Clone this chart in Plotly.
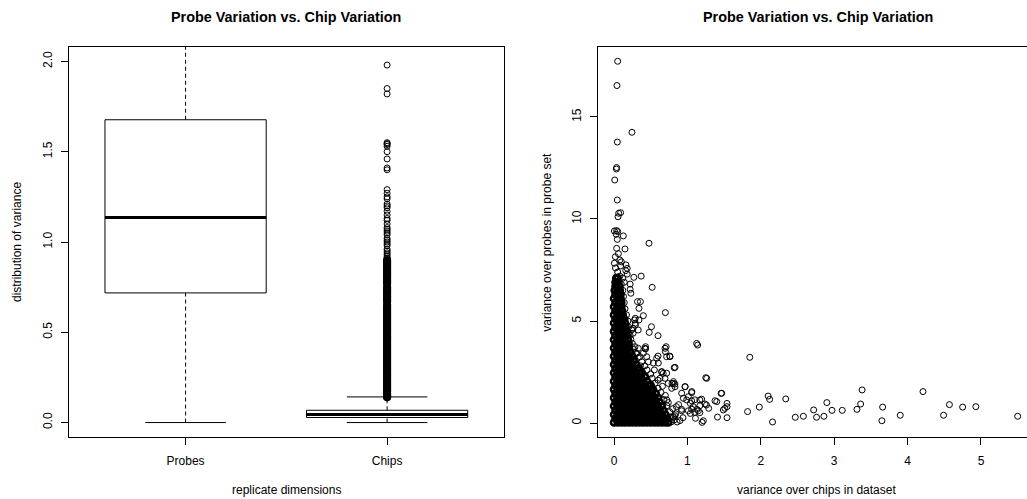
import plotly.graph_objects as go

# ---------------- left panel: boxplot summary ----------------
box_groups = ["Probes", "Chips"]
box_pos = [1, 2]
box_lower = [0.0, 0.0]
box_q1 = [0.718, 0.028]
box_median = [1.136, 0.044]
box_q3 = [1.677, 0.068]
box_upper = [3.10, 0.142]

chips_outliers = [
    1.98, 1.85, 1.82, 1.55, 1.545, 1.54, 1.53, 1.50, 1.46, 1.41, 1.40, 1.29, 1.27,
    1.25, 1.24, 1.21, 1.20, 1.19, 1.17, 1.15, 1.13, 1.12, 1.10, 1.08, 1.07, 1.06,
    1.05, 1.04, 1.02, 1.01, 1.00, 0.99, 0.98, 0.96, 0.95, 0.94, 0.93, 0.92, 0.91,
    0.90, 0.89, 0.88, 0.87, 0.86, 0.85, 0.84, 0.83, 0.82, 0.81, 0.80, 0.79, 0.78,
    0.77, 0.75, 0.74, 0.73, 0.72, 0.71, 0.70, 0.69, 0.68, 0.67, 0.65, 0.64, 0.63,
    0.62, 0.61, 0.60, 0.59, 0.58, 0.57, 0.56, 0.55, 0.54, 0.53, 0.52, 0.51, 0.50,
    0.49, 0.48, 0.47, 0.46, 0.45, 0.44, 0.43, 0.42, 0.41, 0.40, 0.39, 0.38, 0.37,
    0.36, 0.35, 0.34, 0.33, 0.32, 0.31, 0.30, 0.29, 0.28, 0.27, 0.26, 0.25, 0.24,
    0.23, 0.22, 0.21, 0.20, 0.19, 0.18, 0.17, 0.16, 0.15, 0.145, 0.14,
]

left_yticks = [0.0, 0.5, 1.0, 1.5, 2.0]
left_yticklabels = ["0.0", "0.5", "1.0", "1.5", "2.0"]

# ---------------- right panel: scatter ----------------
# dense core, row by row: y level and the x positions on that row
core_row_y = [0.03, 0.22, 0.42, 0.62, 0.83, 1.03, 1.24, 1.44, 1.65, 1.85, 2.05, 2.26,
              2.46, 2.66, 2.87, 3.07, 3.27, 3.48, 3.68, 3.88, 4.08, 4.29, 4.49, 4.69,
              4.90, 5.10, 5.30, 5.50, 5.70, 5.90, 6.10, 6.30, 6.50, 6.70, 6.90, 7.10]
core_row_x = [
    [0, .05, .1, .15, .2, .25, .3, .35, .4, .45, .5, .55, .6, .65, .7, .74],
    [.02, .07, .12, .17, .22, .27, .32, .37, .42, .47, .52, .57, .62, .67, .72],
    [0, .05, .1, .15, .2, .25, .3, .35, .4, .45, .5, .55, .6, .65, .7],
    [.02, .07, .12, .17, .22, .27, .32, .37, .42, .47, .52, .57, .62, .67],
    [0, .05, .1, .15, .2, .25, .3, .35, .4, .45, .5, .55, .6, .65],
    [.02, .07, .12, .17, .22, .27, .32, .37, .42, .47, .52, .57, .62],
    [0, .05, .1, .15, .2, .25, .3, .35, .4, .45, .5, .55, .6],
    [.02, .07, .12, .17, .22, .27, .32, .37, .42, .47, .52, .57],
    [0, .05, .1, .15, .2, .25, .3, .35, .4, .45, .5, .53],
    [.02, .07, .12, .17, .22, .27, .32, .37, .42, .47, .5],
    [0, .05, .1, .15, .2, .25, .3, .35, .4, .45],
    [.02, .07, .12, .17, .22, .27, .32, .37, .42],
    [0, .05, .1, .15, .2, .25, .3, .35, .38],
    [.02, .07, .12, .17, .22, .27, .32, .34],
    [0, .05, .1, .15, .2, .25, .3],
    [.02, .07, .12, .17, .22, .27],
    [0, .05, .1, .15, .2, .25],
    [.02, .07, .12, .17, .22],
    [0, .05, .1, .15, .2],
    [.02, .07, .12, .17, .2],
    [0, .05, .1, .15, .19],
    [.02, .07, .12, .17],
    [0, .05, .1, .15, .17],
    [.02, .07, .12, .16],
    [0, .05, .1, .15],
    [.02, .07, .12, .14],
    [0, .05, .1, .12],
    [.02, .07, .11],
    [0, .05, .1],
    [.02, .07, .1],
    [0, .05, .09],
    [.02, .06, .09],
    [.01, .05, .08],
    [.02, .07],
    [.02, .06],
    [.03, .05],
]

# points around the edge of the dense cloud
mid_x = [0.286, 0.331, 0.422, 0.309, 0.40, 0.354, 0.445, 0.468, 0.581, 0.536, 0.695, 0.717,
         0.763, 0.604, 0.649, 0.717, 0.831, 0.627, 0.695, 0.74, 0.808, 0.831, 0.786, 0.967,
         1.058, 0.922, 1.013, 0.945, 1.058, 1.10, 1.194, 1.17, 1.24, 1.376, 1.467, 1.263,
         1.058, 1.149, 1.217, 1.10, 1.013, 0.922, 0.831, 0.649, 0.808, 0.49, 0.29, 0.33,
         0.24, 0.20, 0.26, 0.29,
         0.78, 0.82, 0.86, 0.90, 0.77, 0.84, 0.76, 0.80, 0.88, 0.72, 0.74, 0.68, 0.70, 0.64,
         0.60, 0.66, 0.56, 0.60, 0.52, 0.50, 0.55, 0.45, 0.42, 0.38, 0.36, 0.33, 0.30, 0.27,
         0.25, 0.23, 0.22, 0.20, 0.19, 0.17, 0.15, 0.14, 0.13, 0.12, 0.10, 0.08, 0.05, 0.02]
mid_y = [3.74, 3.66, 3.66, 3.42, 3.42, 3.25, 3.25, 3.00, 3.17, 2.94, 3.66, 3.25,
         3.25, 2.94, 2.52, 2.44, 2.73, 2.19, 2.19, 1.94, 1.94, 1.78, 1.70, 1.78,
         1.49, 1.46, 1.29, 1.21, 1.09, 1.14, 1.17, 0.85, 0.93, 1.09, 1.46, 2.19,
         0.68, 0.60, 0.11, 0.52, 0.60, 0.60, 0.36, 0.11, 0.27, 0.11, 4.89, 4.56,
         4.56, 4.40, 4.40, 5.13,
         0.05, 0.15, 0.05, 0.12, 0.30, 0.45, 0.55, 0.70, 0.90, 0.85, 1.00, 1.15, 1.35, 1.50,
         1.70, 1.80, 1.95, 2.10, 2.20, 2.40, 2.60, 2.60, 2.80, 3.00, 2.80, 3.20, 3.40, 3.60,
         3.90, 4.10, 4.30, 4.70, 5.00, 5.30, 5.60, 5.90, 6.20, 6.50, 6.80, 7.20, 7.40, 7.60]

# isolated points
outer_x = [0.05, 0.04, 0.245, 0.045, 0.036, 0.033, 0.01, 0.045, 0.064, 0.09, 0.055,
           0.005, 0.036, 0.05, 0.03, 0.127, 0.045, 0.036, 0.15, 0.477,
           0.018, 0.08, 0.005, 0.10, 0.163, 0.18, 0.16, 0.27, 0.37, 0.52, 0.22, 0.22, 0.23,
           0.18, 0.06, 0.09, 0.12, 0.14,
           0.32, 0.36, 0.34, 0.40, 0.34, 0.70, 0.28, 0.29, 0.26, 0.51, 0.48, 0.60,
           1.126, 1.14, 1.85, 0.43, 0.43, 0.71, 0.70, 0.76, 0.60, 0.82, 0.65, 0.67, 1.25,
           0.81, 0.79, 0.83, 0.97, 1.06, 1.46, 2.10, 2.12, 2.34, 3.38, 4.21, 1.17, 1.40,
           1.54, 1.51, 1.49, 1.29, 1.26, 0.99, 1.04, 1.08, 1.13, 1.82, 1.98, 2.90, 3.36,
           3.31, 2.72, 2.97, 3.11, 3.66, 4.57, 4.75, 4.93, 4.49, 3.90, 3.65, 5.50, 2.86,
           2.76, 2.58, 2.47, 2.16, 1.54, 1.41, 1.20, 1.11, 0.94, 0.81, 0.66, 0.48, 1.17,
           1.04, 0.92, 0.85, 0.72, 1.54]
outer_y = [17.73, 16.54, 14.25, 13.77, 12.52, 12.45, 11.91, 10.93, 10.28, 10.31, 10.11,
           9.41, 9.43, 9.38, 9.25, 9.17, 9.00, 8.56, 8.53, 8.81,
           8.15, 7.99, 7.83, 7.90, 7.75, 7.58, 7.47, 7.14, 7.20, 6.65, 6.81, 6.55, 6.36,
           7.30, 8.30, 7.70, 7.10, 6.90,
           5.95, 5.95, 5.62, 5.26, 5.05, 5.41, 5.05, 4.80, 4.64, 4.72, 4.44, 4.28,
           3.90, 3.82, 3.22, 3.63, 3.74, 3.74, 3.50, 3.28, 3.28, 2.71, 2.50, 2.43, 2.22,
           2.03, 1.94, 1.91, 1.78, 1.54, 1.45, 1.32, 1.16, 1.18, 1.62, 1.54, 1.13, 1.05,
           0.96, 0.72, 0.64, 0.72, 0.88, 1.13, 0.96, 0.80, 0.67, 0.56, 0.78, 1.00, 0.93,
           0.67, 0.64, 0.62, 0.62, 0.78, 0.90, 0.78, 0.80, 0.38, 0.38, 0.11, 0.33, 0.33,
           0.28, 0.33, 0.28, 0.05, 0.26, 0.29, 0.03, 0.23, 0.26, 0.31, 0.02, 0.07, 0.51,
           0.47, 0.67, 0.80, 1.13, 0.80]

right_xticks = [0, 1, 2, 3, 4, 5]
right_yticks = [0, 5, 10, 15]

# ---------------- styles ----------------
FONT = "Liberation Sans, Arial, Helvetica, sans-serif"
BOX_HALF = 0.4
STAPLE_HALF = 0.2
DENSE_BELOW = 0.9   # outliers drawn with a heavier stroke where they overlap into a solid bar
W, H = 1027, 499

fig = go.Figure()


def open_circles(xs, ys, xa, ya, lw=1.0, size=6):
    return go.Scatter(x=xs, y=ys, mode="markers", xaxis=xa, yaxis=ya, hoverinfo="skip",
                      marker=dict(symbol="circle-open", size=size, color="black",
                                  line=dict(width=lw, color="black")))


# boxplot drawn R-style
for i, g in enumerate(box_groups):
    p = box_pos[i]
    for lo, hi in ((box_lower[i], box_q1[i]), (box_q3[i], box_upper[i])):
        fig.add_trace(go.Scatter(x=[p, p], y=[lo, hi], mode="lines",
                                 line=dict(color="black", width=1, dash="4px,3px"),
                                 xaxis="x", yaxis="y", hoverinfo="skip"))
    for v in (box_lower[i], box_upper[i]):
        fig.add_trace(go.Scatter(x=[p - STAPLE_HALF, p + STAPLE_HALF], y=[v, v], mode="lines",
                                 line=dict(color="black", width=1),
                                 xaxis="x", yaxis="y", hoverinfo="skip"))
    fig.add_trace(go.Scatter(
        x=[p - BOX_HALF, p + BOX_HALF, p + BOX_HALF, p - BOX_HALF, p - BOX_HALF],
        y=[box_q1[i], box_q1[i], box_q3[i], box_q3[i], box_q1[i]],
        mode="lines", line=dict(color="black", width=1),
        fill="toself", fillcolor="white",
        xaxis="x", yaxis="y", hoverinfo="skip"))
    fig.add_trace(go.Scatter(x=[p - BOX_HALF, p + BOX_HALF], y=[box_median[i], box_median[i]],
                             mode="lines", line=dict(color="black", width=3),
                             xaxis="x", yaxis="y", hoverinfo="skip"))

# chips outliers
sparse_out = [v for v in chips_outliers if v > DENSE_BELOW]
dense_out = [v for v in chips_outliers if v <= DENSE_BELOW]
fig.add_trace(open_circles([box_pos[1]] * len(sparse_out), sparse_out, "x", "y"))
fig.add_trace(open_circles([box_pos[1]] * len(dense_out), dense_out, "x", "y", lw=2.2))

# scatter panel
core_x, core_y = [], []
for yv, xs in zip(core_row_y, core_row_x):
    for xv in xs:
        core_x.append(xv)
        core_y.append(yv)

fig.add_trace(open_circles(core_x, core_y, "x2", "y2", lw=2.6, size=6))
fig.add_trace(open_circles(mid_x, mid_y, "x2", "y2"))
fig.add_trace(open_circles(outer_x, outer_y, "x2", "y2"))

# ---------------- layout ----------------
def px_x(v):
    return v / W


def px_y(v):
    return (H - v) / H


axis_common = dict(showgrid=False, zeroline=False, showline=True, linecolor="black",
                   linewidth=1, ticks="outside", ticklen=7, tickcolor="black", tickwidth=1,
                   tickfont=dict(family=FONT, size=12, color="black"))

y_dom = [px_y(437), px_y(47)]

fig.update_layout(
    width=W, height=H, margin=dict(l=0, r=0, t=0, b=0),
    paper_bgcolor="white", plot_bgcolor="white", showlegend=False,
    xaxis=dict(domain=[px_x(68.7), px_x(504)], range=[0.42, 2.58], tickvals=box_pos,
               ticktext=box_groups, mirror=True, ticklabelstandoff=6, **axis_common),
    yaxis=dict(domain=y_dom, range=[-0.08, 2.08], tickvals=left_yticks,
               ticktext=left_yticklabels, tickangle=-90, mirror=True, ticklabelstandoff=4,
               **axis_common),
    xaxis2=dict(domain=[px_x(598), 1.0], range=[-0.218, 5.627], tickvals=right_xticks,
                mirror=True, anchor="y2", ticklabelstandoff=6, **axis_common),
    yaxis2=dict(domain=y_dom, range=[-0.686, 18.43], tickvals=right_yticks, tickangle=-90,
                mirror=False, anchor="x2", ticklabelstandoff=4, **axis_common),
)

title_font = dict(family=FONT, size=14.4, color="black")
label_font = dict(family=FONT, size=12, color="black")
annos = [
    dict(text="<b>Probe Variation vs. Chip Variation</b>", x=px_x(286.3), y=px_y(17),
         font=title_font),
    dict(text="<b>Probe Variation vs. Chip Variation</b>", x=px_x(818), y=px_y(17),
         font=title_font),
    dict(text="replicate dimensions", x=px_x(286.3), y=px_y(490), font=label_font),
    dict(text="variance over chips in dataset", x=px_x(816.7), y=px_y(490), font=label_font),
    dict(text="distribution of variance", x=px_x(17), y=px_y(242), font=label_font,
         textangle=-90),
    dict(text="variance over probes in probe set", x=px_x(546.7), y=px_y(242),
         font=label_font, textangle=-90),
]
for a in annos:
    fig.add_annotation(xref="paper", yref="paper", showarrow=False, xanchor="center",
                       yanchor="middle", **a)

fig.write_html("out.html")
